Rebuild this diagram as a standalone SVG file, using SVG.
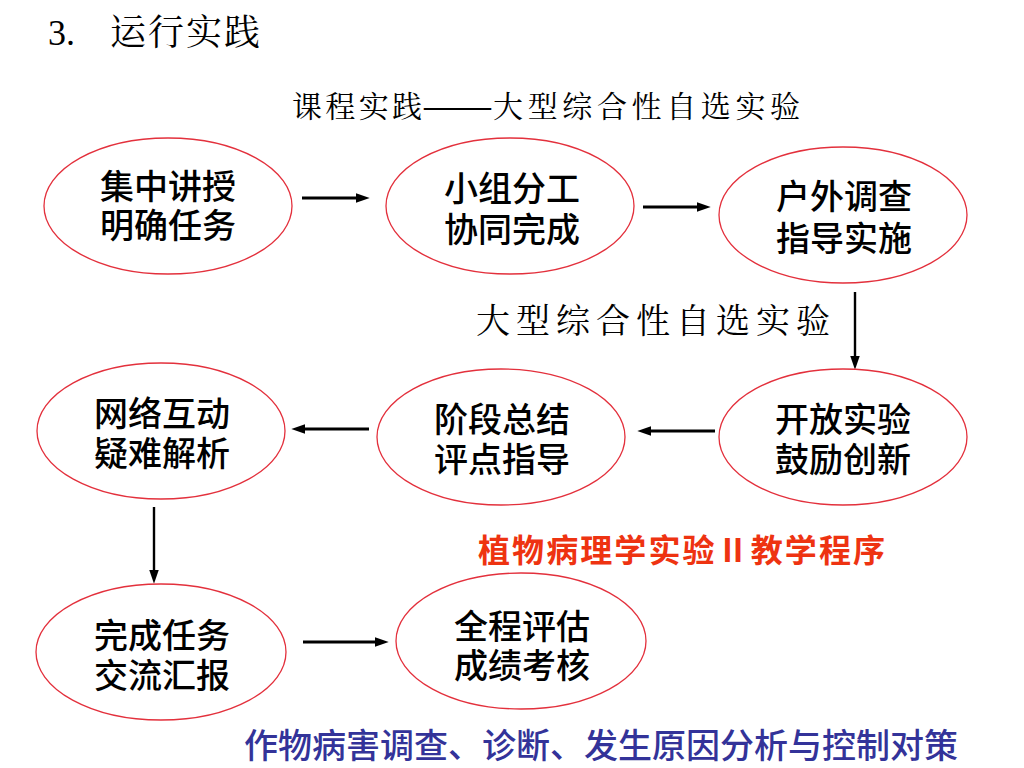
<svg xmlns="http://www.w3.org/2000/svg" width="1024" height="768" viewBox="0 0 1024 768">
<defs>
<marker id="ah" markerUnits="userSpaceOnUse" markerWidth="14" markerHeight="12" viewBox="0 0 13 10" refX="4" refY="5" orient="auto">
<path d="M0,0.5 L13,5 L0,9.5 z" fill="#000"/>
</marker>
<style>
.node ellipse{fill:#fff;stroke:#E3303C;stroke-width:1.3}
.node text{font-family:"Noto Sans CJK SC","Noto Sans",sans-serif;font-size:34px;font-weight:500;fill:#000;text-anchor:middle;dominant-baseline:central}
.conn line{stroke:#000;marker-end:url(#ah)}
.h{stroke-width:3.2}
.v{stroke-width:2.4}
.serif{font-family:"Noto Serif CJK SC","Liberation Serif","Noto Sans CJK SC",serif;fill:#000}
.cap{font-family:"Noto Sans CJK SC","Noto Sans",sans-serif;dominant-baseline:central}
</style>
</defs>
<rect width="1024" height="768" fill="#fff"/>

<g id="title">
<text class="serif" x="48" y="45" font-size="36"><tspan font-family="Liberation Serif">3.</tspan><tspan x="110" y="45" letter-spacing="2">运行实践</tspan></text>
</g>
<g id="subtitle">
<text class="serif" y="104" font-size="30" dominant-baseline="central"><tspan x="292" textLength="130" lengthAdjust="spacing">课程实践</tspan><tspan x="422" textLength="71" lengthAdjust="spacingAndGlyphs" font-weight="700">——</tspan><tspan x="493" textLength="307" lengthAdjust="spacing">大型综合性自选实验</tspan></text>
</g>
<g id="midlabel">
<text class="serif" x="476" y="318" font-size="34" dominant-baseline="central" textLength="354" lengthAdjust="spacing">大型综合性自选实验</text>
</g>

<g class="conn" id="connectors">
<line class="h" x1="302" y1="198" x2="360" y2="198"/>
<line class="h" x1="643" y1="207" x2="701" y2="207"/>
<line class="v" x1="855" y1="292" x2="855" y2="360"/>
<line class="h" x1="715" y1="431" x2="647" y2="431"/>
<line class="h" x1="369" y1="429" x2="301" y2="429"/>
<line class="v" x1="154" y1="507" x2="154" y2="574"/>
<line class="h" x1="303" y1="642" x2="379" y2="642"/>
</g>

<g class="node" id="n1">
<ellipse cx="168" cy="206" rx="124" ry="68"/>
<text><tspan x="168" y="184">集中讲授</tspan><tspan x="168" y="223">明确任务</tspan></text>
</g>
<g class="node" id="n2">
<ellipse cx="510" cy="206" rx="124" ry="68"/>
<text><tspan x="512" y="186">小组分工</tspan><tspan x="512" y="227">协同完成</tspan></text>
</g>
<g class="node" id="n3">
<ellipse cx="843" cy="215" rx="124" ry="68"/>
<text><tspan x="844" y="194">户外调查</tspan><tspan x="844" y="236">指导实施</tspan></text>
</g>
<g class="node" id="n4">
<ellipse cx="843" cy="437" rx="124" ry="68"/>
<text><tspan x="843" y="417">开放实验</tspan><tspan x="843" y="457">鼓励创新</tspan></text>
</g>
<g class="node" id="n5">
<ellipse cx="501" cy="437" rx="124" ry="68"/>
<text><tspan x="502" y="417">阶段总结</tspan><tspan x="502" y="457">评点指导</tspan></text>
</g>
<g class="node" id="n6">
<ellipse cx="161" cy="431" rx="124" ry="68"/>
<text><tspan x="162" y="411">网络互动</tspan><tspan x="162" y="451">疑难解析</tspan></text>
</g>
<g class="node" id="n7">
<ellipse cx="161" cy="652" rx="125" ry="68"/>
<text><tspan x="162" y="633">完成任务</tspan><tspan x="162" y="673">交流汇报</tspan></text>
</g>
<g class="node" id="n8">
<ellipse cx="521" cy="641" rx="125" ry="68"/>
<text><tspan x="522" y="624">全程评估</tspan><tspan x="522" y="663">成绩考核</tspan></text>
</g>

<g id="redcaption">
<text class="cap" x="478" y="548" font-size="32" font-weight="700" fill="#EE3311" textLength="407" lengthAdjust="spacing">植物病理学实验Ⅱ教学程序</text>
</g>
<g id="bluecaption">
<text class="cap" x="244" y="743" font-size="34" font-weight="500" fill="#333399" textLength="714" lengthAdjust="spacing">作物病害调查、诊断、发生原因分析与控制对策</text>
</g>
</svg>
